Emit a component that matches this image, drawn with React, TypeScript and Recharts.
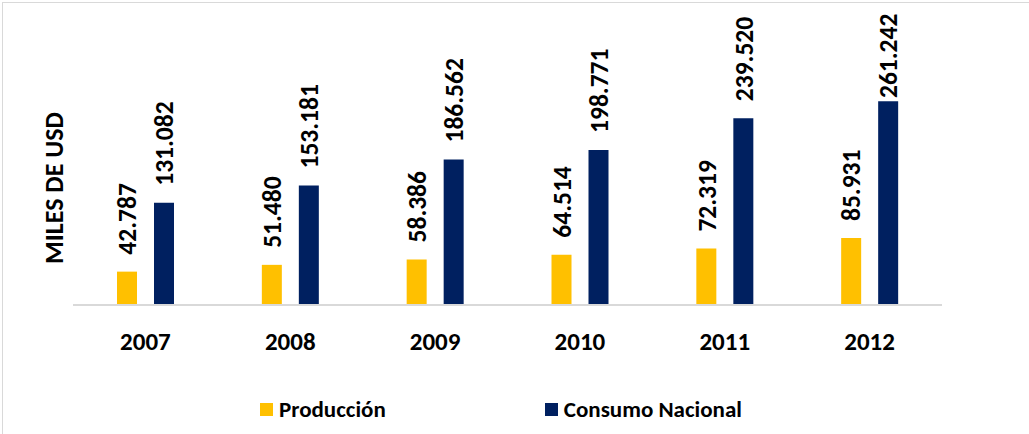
import React from 'react';
import { BarChart, Bar, XAxis, YAxis, Legend, LabelList } from 'recharts';

const years = ['2007', '2008', '2009', '2010', '2011', '2012'];
const produccion = [42.787, 51.48, 58.386, 64.514, 72.319, 85.931];
const consumo = [131.082, 153.181, 186.562, 198.771, 239.52, 261.242];
const seriesNames = ['Producción', 'Consumo Nacional'];
const seriesColors = ['#FFC000', '#002060'];
const yDomain = [0, 300];
const yTitle = 'MILES DE USD';

const data = years.map((y, i) => ({ year: y, produccion: produccion[i], consumo: consumo[i] }));

const FONT = 'Carlito, Lato, "Open Sans", sans-serif';

const ValueLabel = (props: any) => {
  const { x, y, width, value } = props;
  const cx = x + width / 2;
  const textLen = 85;
  const minTop = 13;
  const bottom = Math.max(y - 17, minTop + textLen);
  return (
    <text
      transform={`translate(${cx}, ${bottom}) rotate(-90)`}
      textAnchor="start"
      dy="0.36em"
      fontFamily={FONT}
      fontWeight={700}
      fontSize={25.5}
      fill="#000"
    >
      {Number(value).toFixed(3)}
    </text>
  );
};

const YearTick = (props: any) => {
  const { x, y, payload } = props;
  return (
    <text x={x} y={y} dy={36.5} textAnchor="middle" fontFamily={FONT} fontWeight={700} fontSize={25} fill="#000">
      {payload.value}
    </text>
  );
};

const YTitle = (props: any) => {
  const { viewBox } = props;
  const cy = viewBox.y + viewBox.height / 2;
  return (
    <text
      transform={`translate(63, ${cy}) rotate(-90)`}
      textAnchor="middle"
      fontFamily={FONT}
      fontWeight={700}
      fontSize={26}
      fill="#000"
    >
      {yTitle}
    </text>
  );
};

const LegendContent = () => (
  <div style={{ display: 'flex', alignItems: 'center', fontFamily: FONT, fontWeight: 700, fontSize: 23, color: '#000', whiteSpace: 'nowrap' }}>
    {seriesNames.map((n, i) => (
      <div key={n} style={{ display: 'flex', alignItems: 'center', marginRight: i === 0 ? 159 : 0 }}>
        <span style={{ display: 'inline-block', width: 13, height: 13, background: seriesColors[i], marginRight: 6 }} />
        <span>{n}</span>
      </div>
    ))}
  </div>
);

export default function App() {
  return (
    <div style={{ position: 'absolute', left: 0, top: 0, width: 1029, height: 434, overflow: 'hidden', background: '#fff' }}>
      <div style={{ position: 'absolute', left: 2, top: 2, width: 1100, height: 500, border: '1px solid #d9d9d9', boxSizing: 'border-box' }} />
      <BarChart
        width={1029}
        height={434}
        data={data}
        margin={{ top: 71, right: 87, bottom: 99, left: 0 }}
        barGap={17}
        style={{ position: 'absolute', left: 0, top: 0 }}
      >
        <XAxis
          dataKey="year"
          axisLine={{ stroke: '#d9d9d9', strokeWidth: 2 }}
          tickLine={false}
          tick={<YearTick />}
          height={30}
          interval={0}
        />
        <YAxis
          domain={yDomain}
          width={73}
          axisLine={false}
          tickLine={false}
          tick={false}
          label={<YTitle />}
        />
        <Legend
          layout="horizontal"
          verticalAlign="middle"
          content={<LegendContent />}
          wrapperStyle={{ position: 'absolute', left: 260, top: 395, width: 'auto', height: 'auto' }}
        />
        <Bar dataKey="produccion" name={seriesNames[0]} fill={seriesColors[0]} barSize={20} isAnimationActive={false}>
          <LabelList dataKey="produccion" content={<ValueLabel />} />
        </Bar>
        <Bar dataKey="consumo" name={seriesNames[1]} fill={seriesColors[1]} barSize={20} isAnimationActive={false}>
          <LabelList dataKey="consumo" content={<ValueLabel />} />
        </Bar>
      </BarChart>
    </div>
  );
}
